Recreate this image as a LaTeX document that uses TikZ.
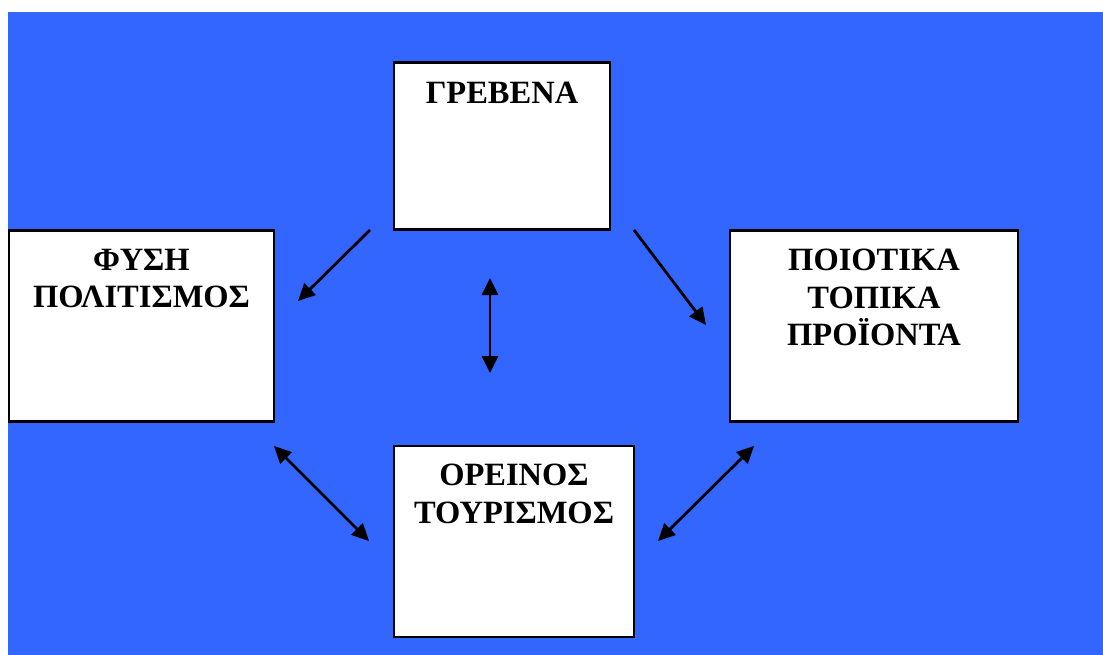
\documentclass[tikz,border=0pt]{standalone}
\usepackage{fontspec}
\setmainfont{Liberation Serif}
\usetikzlibrary{arrows.meta}
\definecolor{bgblue}{HTML}{3366FF}
\tikzset{
  box/.style={draw=black, fill=white, line width=2.2pt, inner sep=0pt},
  lbl/.style={anchor=north, inner sep=0pt, align=center,
    font=\bfseries\fontsize{32.5}{37.5}\selectfont},
  tip/.tip={Triangle[length=17pt,width=16pt]},
  arr/.style={line width=2.8pt, -tip},
  darr/.style={line width=2.8pt, tip-tip}
}
\begin{document}
\begin{tikzpicture}[x=1pt,y=-1pt]
\useasboundingbox (0,0) rectangle (1103,655);
\fill[white] (0,0) rectangle (1103,655);
\fill[bgblue] (8,12) rectangle (1103,655);
% boxes
\node[box, minimum width=265pt, minimum height=191pt] (fysi) at (141.5,326) {};
\node[box, minimum width=216pt, minimum height=167pt] (grevena) at (502,146) {};
\node[box, minimum width=288pt, minimum height=191pt] (proionta) at (874,326) {};
\node[box, minimum width=240pt, minimum height=191pt] (tourismos) at (514,541.5) {};
% labels
\node[lbl] (grevenaT) at (502,82) {ΓΡΕΒΕΝΑ};
\node[lbl] (fysiT) at (141.5,249) {ΦΥΣΗ\\ΠΟΛΙΤΙΣΜΟΣ};
\node[lbl] (proiontaT) at (874,249) {ΠΟΙΟΤΙΚΑ\\ΤΟΠΙΚΑ\\ΠΡΟΪΟΝΤΑ};
\node[lbl] (tourismosT) at (514,464) {ΟΡΕΙΝΟΣ\\ΤΟΥΡΙΣΜΟΣ};
% arrow end points
\coordinate (a1s) at (370,230);
\coordinate (a1e) at (298,301);
\coordinate (a2s) at (634,230);
\coordinate (a2e) at (706,325);
\coordinate (a3s) at (490,278);
\coordinate (a3e) at (490,373);
\coordinate (a4s) at (274,446);
\coordinate (a4e) at (369,541);
\coordinate (a5s) at (754,446);
\coordinate (a5e) at (658,541);
% arrows
\draw[arr] (a1s) -- (a1e);
\draw[arr] (a2s) -- (a2e);
\draw[darr] (a3s) -- (a3e);
\draw[darr] (a4s) -- (a4e);
\draw[darr] (a5s) -- (a5e);
\end{tikzpicture}
\end{document}
